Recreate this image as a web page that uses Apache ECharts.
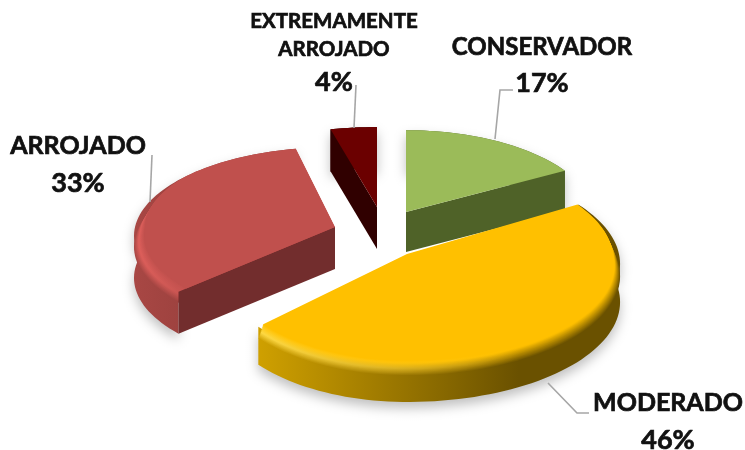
<!DOCTYPE html>
<html><head><meta charset="utf-8">
<style>html,body{margin:0;padding:0;background:#fff}#c{width:745px;height:450px}</style>
<script src="https://cdn.jsdelivr.net/npm/echarts@6/dist/echarts.min.js"></script>
</head><body><div id="c"></div>
<script>
const categories = ['CONSERVADOR','MODERADO','ARROJADO','EXTREMAMENTE ARROJADO'];
const values = [17,46,33,4];

const sliceStyle = [
 {c:[406,212],a:190,aL:190,t:90,p:.1,d:40,z:1,e1:0,e2:0,top:'#9BBB59',wall:'#4F6228',rimL:'#4F6228',rimR:'#4F6228',hiL:'#4F6228',bev:0,k:0},
 {c:[407,254],a:212,aL:190,t:99,p:.1,d:38,z:4,e1:-3,e2:0,top:'#FFC000',wall:'#8a6a00',rimL:'#CFA000',rimR:'#6A5100',hiL:'#FFDA45',bev:12,k:.03},
 {c:[335,227],a:200,aL:200,t:88,p:.1,d:42,z:2,e1:0,e2:2,top:'#C0504D',wall:'#722D2D',rimL:'#A84744',rimR:'#8f3b38',hiL:'#E0605C',bev:11,k:.05},
 {c:[377,207],a:205,aL:205,t:88,p:.1,d:42,z:3,e1:0,e2:0,top:'#6B0000',wall:'#300000',rimL:'#300000',rimR:'#300000',hiL:'#300000',bev:0,k:0}
];
const labelLayout = [
 {x:542,lines:[['CONSERVADOR',47,24]],py:83,ps:27,leader:[[495,139],[500,90],[513,90]]},
 {x:668,lines:[['MODERADO',403,25]],py:440,ps:27,leader:[[548,383],[577,413],[589,413]]},
 {x:78,lines:[['ARROJADO',146,25]],py:183,ps:27,leader:[[150,202],[152,155]]},
 {x:334,lines:[['EXTREMAMENTE',21,20.5],['ARROJADO',49,20.5]],py:82,ps:27,leader:[[354,128],[356,85]]}
];
const total = values.reduce((a,b)=>a+b,0);
const hex = h=>[1,3,5].map(i=>parseInt(h.substr(i,2),16));
const mix = (a,b,t)=>{const A=hex(a),B=hex(b);return 'rgb('+A.map((v,i)=>Math.round(v+(B[i]-v)*t)).join(',')+')';};

function arc(st,t1,t2,shrink,dy){
  const pts=[], n=Math.max(2,Math.ceil((t2-t1)/2));
  for(let i=0;i<=n;i++){
    const th=(t1+(t2-t1)*i/n)*Math.PI/180, X=Math.sin(th), Y=-Math.cos(th), s=1/(1-st.p*Y);
    const sc=1-shrink*Math.min(1,Math.max(0,(Y+.6)/.6));
    pts.push([st.c[0]+(X<0?st.aL:st.a)*X*s*sc, st.c[1]+st.t*Y*s*sc+dy]);
  }
  return pts;
}
function poly(points,style,z2){return {type:'polygon',shape:{points},style,z2,silent:true};}
function hgrad(x0,x1,l,r){return {type:'linear',x:x0,y:0,x2:x1,y2:0,global:true,colorStops:[{offset:0,color:l},{offset:.72,color:r},{offset:1,color:r}]};}

function renderItem(params,api){
  const i=params.dataIndex, st=sliceStyle[i];
  let before=0; for(let k=0;k<i;k++) before+=values[k];
  const t1=before/total*360+st.e1, t2=(before+api.value(0))/total*360+st.e2;
  const kids=[]; let z=st.z*100;
  const outer=arc(st,t1,t2,0,0);
  const xs=outer.map(p=>p[0]); const x0=Math.min(...xs), x1=Math.max(...xs);
  const rimPts=outer.concat(arc(st,t1,t2,0,st.d).reverse());
  kids.push(poly(rimPts,{fill:hgrad(x0,x1,st.rimL,st.rimR),shadowBlur:12,shadowColor:'rgba(0,0,0,.25)',shadowOffsetY:6},z++));
  const N=st.bev?16:0;
  for(let k=0;k<N;k++){
    const f=k/N, dy=st.bev*(1-f);
    const L= f<.45? mix(st.rimL,st.hiL,f/.45) : mix(st.hiL,st.top,(f-.45)/.55);
    const R= mix(st.rimR,st.top,Math.min(1,f*1.2));
    kids.push(poly([[st.c[0],st.c[1]+dy]].concat(arc(st,t1,t2,st.k*f,dy)),{fill:hgrad(x0,x1,L,R)},z++));
  }
  const mid=arc(st,(t1+t2)/2,(t1+t2)/2,0,0)[0], cx=(st.c[0]+mid[0])/2, cy=(st.c[1]+mid[1])/2;
  [t1,t2].forEach(t=>{
    const e=arc(st,t,t,0,0)[0];
    if(Math.abs(e[0]-st.c[0])<1) return;
    const ly=st.c[1]+(e[1]-st.c[1])*(cx-st.c[0])/(e[0]-st.c[0]);
    if(cy>=ly) return;
    kids.push(poly([st.c,e,[e[0],e[1]+st.d],[st.c[0],st.c[1]+st.d]],{fill:st.wall},z++));
  });
  kids.push(poly([st.c].concat(arc(st,t1,t2,st.k,0)),{fill:st.top},z++));
  const lb=labelLayout[i];
  kids.push({type:'polyline',shape:{points:lb.leader},style:{stroke:'#A6A6A6',lineWidth:1.6,fill:null},z2:900,silent:true});
  const txt=(t,y,s)=>({type:'text',x:lb.x,y:y,z2:901,silent:true,style:{text:t,align:'center',verticalAlign:'middle',fill:'#111',stroke:'#111',lineWidth:.7,font:'bold '+s+'px Lato'}});
  lb.lines.forEach(l=>kids.push(txt(l[0],l[1],l[2])));
  kids.push(txt(api.value(0)+'%',lb.py,lb.ps));
  return {type:'group',children:kids};
}
const chart=echarts.init(document.getElementById('c'),null,{renderer:'canvas'});
chart.setOption({animation:false,backgroundColor:'#fff',
  series:[{type:'custom',coordinateSystem:'none',renderItem,silent:true,
    data:values.map((v,i)=>({name:categories[i],value:[v]}))}]});
</script></body></html>
